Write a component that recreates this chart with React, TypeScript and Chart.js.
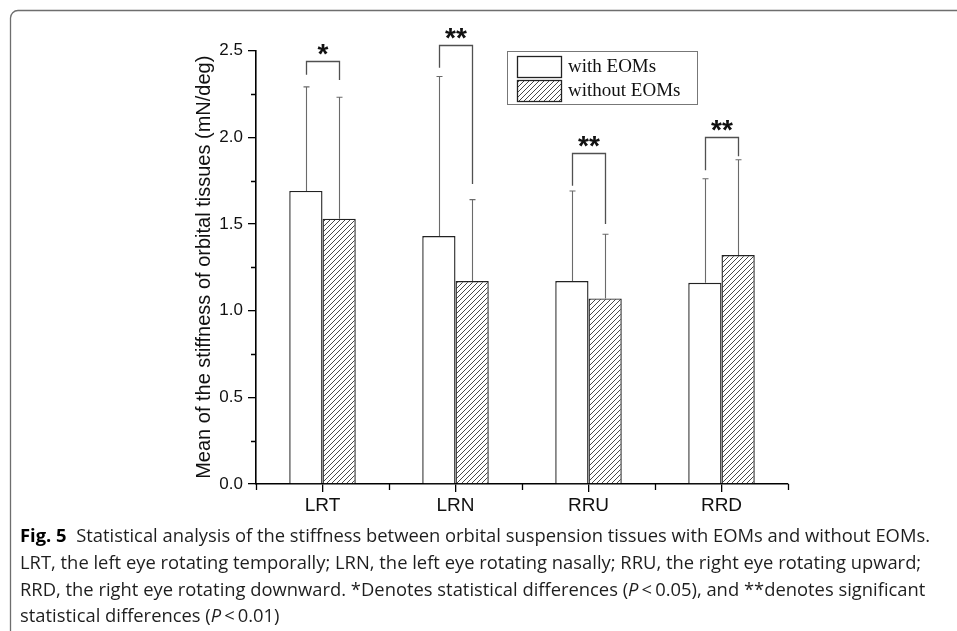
import React, { useEffect, useRef } from 'react';
import { Chart, registerables } from 'chart.js';

Chart.register(...registerables);

// ---------- data ----------
const categories = ['LRT', 'LRN', 'RRU', 'RRD'];
const seriesLabels = ['with EOMs', 'without EOMs'];
const withEOMs = [1.69, 1.43, 1.17, 1.16];
const withoutEOMs = [1.53, 1.17, 1.07, 1.32];
const withEOMsErrTop = [2.29, 2.35, 1.69, 1.76];
const withoutEOMsErrTop = [2.23, 1.64, 1.44, 1.87];
const sigLabels = ['*', '**', '**', '**'];
const sigTop = [2.44, 2.53, 1.91, 2.0];
const sigLeftEnd = [2.36, 2.4, 1.72, 1.81];
const sigRightEnd = [2.33, 1.73, 1.5, 1.89];
const yMin = 0;
const yMax = 2.5;
const yMajorStep = 0.5;
const yMinorStep = 0.25;
const yTitle = 'Mean of the stiffness of orbital tissues (mN/deg)';

type Seg = [string, 'normal' | 'bold' | 'italic'];
const captionLines: Seg[][] = [
  [['Fig. 5', 'bold'], ['  Statistical analysis of the stiffness between orbital suspension tissues with EOMs and without EOMs.', 'normal']],
  [['LRT, the left eye rotating temporally; LRN, the left eye rotating nasally; RRU, the right eye rotating upward;', 'normal']],
  [['RRD, the right eye rotating downward. *Denotes statistical differences (', 'normal'], ['P', 'italic'], ['\u2009<\u20090.05), and **denotes significant', 'normal']],
  [['statistical differences (', 'normal'], ['P', 'italic'], ['\u2009<\u20090.01)', 'normal']],
];

function makeHatch(): CanvasPattern | string {
  const c = document.createElement('canvas');
  const s = 5;
  c.width = s;
  c.height = s;
  const g = c.getContext('2d');
  if (!g) return '#fff';
  g.fillStyle = '#fff';
  g.fillRect(0, 0, s, s);
  g.strokeStyle = '#333';
  g.lineWidth = 0.9;
  g.beginPath();
  g.moveTo(0, s);
  g.lineTo(s, 0);
  g.moveTo(-1, 1);
  g.lineTo(1, -1);
  g.moveTo(s - 1, s + 1);
  g.lineTo(s + 1, s - 1);
  g.stroke();
  const p = g.createPattern(c, 'repeat');
  return p || '#fff';
}

const decorPlugin = {
  id: 'decor',
  beforeDraw(chart: any) {
    const ctx = chart.ctx;
    ctx.save();
    ctx.fillStyle = '#fff';
    ctx.fillRect(0, 0, chart.width, chart.height);
    // figure frame (top + left, rounded corner)
    ctx.strokeStyle = '#6e6e6e';
    ctx.lineWidth = 1.3;
    ctx.beginPath();
    ctx.moveTo(10.5, chart.height + 2);
    ctx.lineTo(10.5, 18);
    ctx.arcTo(10.5, 10.5, 18, 10.5, 7.5);
    ctx.lineTo(chart.width + 2, 10.5);
    ctx.stroke();
    ctx.restore();
  },
  afterDatasetsDraw(chart: any) {
    const ctx = chart.ctx;
    const ys = chart.scales.y;
    const xs = chart.scales.x;
    const m0 = chart.getDatasetMeta(0);
    const m1 = chart.getDatasetMeta(1);
    const errs = [withEOMsErrTop, withoutEOMsErrTop];
    const vals = [withEOMs, withoutEOMs];
    ctx.save();
    // error bars
    ctx.strokeStyle = '#6a6a6a';
    ctx.lineWidth = 1.1;
    [m0, m1].forEach((meta, di) => {
      meta.data.forEach((bar: any, j: number) => {
        const x = Math.round(bar.x) + 0.5;
        const y0 = ys.getPixelForValue(vals[di][j]);
        const y1 = ys.getPixelForValue(errs[di][j]);
        ctx.beginPath();
        ctx.moveTo(x, y0);
        ctx.lineTo(x, y1);
        ctx.moveTo(x - 3, y1);
        ctx.lineTo(x + 3, y1);
        ctx.stroke();
      });
    });
    // significance brackets
    ctx.strokeStyle = '#505050';
    ctx.lineWidth = 1.3;
    ctx.fillStyle = '#111';
    ctx.font = 'bold 28px "Liberation Sans", Arial, sans-serif';
    ctx.textAlign = 'center';
    ctx.textBaseline = 'alphabetic';
    categories.forEach((_, j) => {
      const lx = Math.round(m0.data[j].x) + 0.5;
      const rx = Math.round(m1.data[j].x) + 0.5;
      const ty = Math.round(ys.getPixelForValue(sigTop[j])) + 0.5;
      ctx.beginPath();
      ctx.moveTo(lx, ys.getPixelForValue(sigLeftEnd[j]));
      ctx.lineTo(lx, ty);
      ctx.lineTo(rx, ty);
      ctx.lineTo(rx, ys.getPixelForValue(sigRightEnd[j]));
      ctx.stroke();
      ctx.fillText(sigLabels[j], (lx + rx) / 2, ty + 1);
    });
    // minor ticks
    ctx.strokeStyle = '#000';
    ctx.lineWidth = 1.3;
    ctx.beginPath();
    for (let v = yMin + yMinorStep; v < yMax; v += yMajorStep) {
      const y = Math.round(ys.getPixelForValue(v)) + 0.5;
      ctx.moveTo(xs.left, y);
      ctx.lineTo(xs.left - 5, y);
    }
    for (let j = 0; j <= categories.length; j++) {
      const x = Math.round(xs.getPixelForValue(j - 0.5)) + 0.5;
      ctx.moveTo(x, ys.bottom);
      ctx.lineTo(x, ys.bottom + 6);
    }
    ctx.stroke();
    ctx.restore();
  },
  afterDraw(chart: any) {
    const ctx = chart.ctx;
    ctx.save();
    // legend box
    const ds = chart.data.datasets;
    ctx.strokeStyle = '#777';
    ctx.lineWidth = 1;
    ctx.strokeRect(507.5, 51.5, 190, 53);
    ds.forEach((d: any, i: number) => {
      const top = 56 + i * 24;
      ctx.fillStyle = d.backgroundColor;
      ctx.fillRect(517, top, 44, 21);
      ctx.strokeStyle = '#222';
      ctx.lineWidth = 1.3;
      ctx.strokeRect(517.5, top + 0.5, 44, 21);
      ctx.fillStyle = '#111';
      ctx.font = '19px "Liberation Serif", "Times New Roman", serif';
      ctx.textAlign = 'left';
      ctx.textBaseline = 'middle';
      ctx.fillText(d.label, 568, top + 11.5);
    });
    // caption
    const fs = 18.5;
    const fam = '"Open Sans", "Noto Sans", sans-serif';
    const fontFor = (st: string) =>
      st === 'bold' ? `bold ${fs}px ${fam}` : st === 'italic' ? `italic ${fs}px ${fam}` : `${fs}px ${fam}`;
    const widthOf = (line: Seg[]) =>
      line.reduce((acc, [t, st]) => {
        ctx.font = fontFor(st);
        return acc + ctx.measureText(t).width;
      }, 0);
    const x0 = 20;
    const sx = (930 - x0) / widthOf(captionLines[0]);
    ctx.textAlign = 'left';
    ctx.textBaseline = 'alphabetic';
    captionLines.forEach((line, li) => {
      ctx.save();
      ctx.translate(x0, 542 + li * 26.8);
      ctx.scale(sx, 1);
      let x = 0;
      line.forEach(([t, st]) => {
        ctx.font = fontFor(st);
        ctx.fillStyle = st === 'bold' ? '#000' : '#1e1e1e';
        ctx.fillText(t, x, 0);
        x += ctx.measureText(t).width;
      });
      ctx.restore();
    });
    ctx.restore();
  },
};

export default function App() {
  const ref = useRef<HTMLCanvasElement | null>(null);
  useEffect(() => {
    if (!ref.current) return;
    const hatch = makeHatch();
    Chart.defaults.font.family = '"Liberation Sans", Arial, sans-serif';
    Chart.defaults.color = '#111';
    const chart = new Chart(ref.current, {
      type: 'bar',
      data: {
        labels: categories,
        datasets: [
          {
            label: seriesLabels[0],
            data: withEOMs,
            backgroundColor: '#ffffff',
            borderColor: '#222',
            borderWidth: 1.4,
            categoryPercentage: 0.5,
            barPercentage: 1,
          },
          {
            label: seriesLabels[1],
            data: withoutEOMs,
            backgroundColor: hatch as any,
            borderColor: '#222',
            borderWidth: 1.4,
            categoryPercentage: 0.5,
            barPercentage: 1,
          },
        ],
      },
      plugins: [decorPlugin],
      options: {
        responsive: false,
        animation: false,
        events: [],
        layout: { padding: { left: 0, right: 169, top: 50.5, bottom: 107 } },
        plugins: {
          legend: { display: false },
          tooltip: { enabled: false },
          title: { display: false },
        },
        scales: {
          x: {
            afterFit: (s: any) => {
              s.height = 40;
            },
            grid: {
              display: true,
              drawOnChartArea: false,
              drawTicks: true,
              tickLength: 8,
              offset: false,
              color: '#000',
              lineWidth: 1.3,
            },
            border: { display: true, color: '#000', width: 1.6 },
            ticks: { font: { size: 19 }, color: '#111', padding: 2 },
          },
          y: {
            min: yMin,
            max: yMax,
            afterFit: (s: any) => {
              s.width = 256;
            },
            grid: {
              display: true,
              drawOnChartArea: false,
              drawTicks: true,
              tickLength: 8,
              color: '#000',
              lineWidth: 1.3,
            },
            border: { display: true, color: '#000', width: 1.6 },
            ticks: {
              stepSize: yMajorStep,
              font: { size: 17 },
              color: '#111',
              padding: 5,
              callback: (v: any) => Number(v).toFixed(1),
            },
            title: {
              display: true,
              text: yTitle,
              font: { size: 20 },
              color: '#111',
              padding: { top: 192, bottom: 0 },
            },
          },
        },
      },
    });
    return () => chart.destroy();
  }, []);
  return (
    <div style={{ position: 'absolute', left: 0, top: 0, width: 957, height: 631 }}>
      <canvas ref={ref} width={957} height={631} style={{ display: 'block', width: 957, height: 631 }} />
    </div>
  );
}
